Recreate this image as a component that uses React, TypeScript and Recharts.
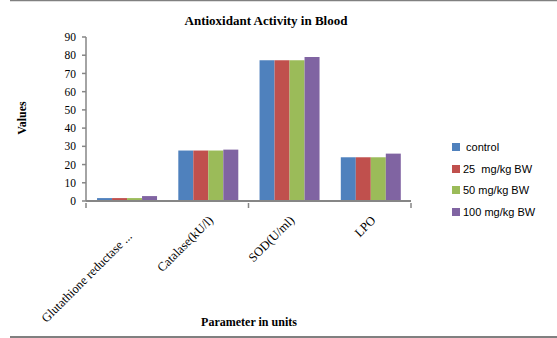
import React from 'react';
import { BarChart, Bar, XAxis, YAxis } from 'recharts';

const categories = ['Glutathione reductase ...', 'Catalase(kU/l)', 'SOD(U/ml)', 'LPO'];
const control = [1.6, 27.7, 77.3, 24];
const dose25 = [1.6, 27.7, 77.3, 24];
const dose50 = [1.6, 27.7, 77.3, 24];
const dose100 = [2.7, 28.2, 79, 26];
const seriesNames = ['control', '25  mg/kg BW', '50 mg/kg BW', '100 mg/kg BW'];
const seriesColors = ['#4F81BD', '#C0504D', '#9BBB59', '#8064A2'];
const yTicks = [0, 10, 20, 30, 40, 50, 60, 70, 80, 90];

const data = categories.map((c, i) => ({
  name: c,
  s0: control[i],
  s1: dose25[i],
  s2: dose50[i],
  s3: dose100[i],
}));

const AXIS = '#868686';
const SERIF = '"Liberation Serif", "Times New Roman", serif';
const SANS = '"Liberation Sans", Arial, sans-serif';

const XTick = (props: any) => {
  const { x, y, payload, index } = props;
  const half = payload && payload.offset ? payload.offset : 40.6;
  const n = categories.length;
  const lines: any[] = [];
  if (index % 2 === 0) lines.push(x - half);
  if (index === n - 1 && (index + 1) % 2 === 0) lines.push(x + half);
  const extra = index === 0 ? 16 : 0;
  const px = x + 6;
  const py = y + 12 + extra;
  return (
    <g>
      {lines.map((lx, k) => (
        <line key={k} x1={lx} x2={lx} y1={y - 6} y2={y - 1} stroke={AXIS} strokeWidth={1.5} />
      ))}
      <text
        x={px}
        y={py}
        transform={`rotate(-45, ${px}, ${py})`}
        textAnchor="end"
        fontFamily={SERIF}
        fontSize={12.5}
        fill="#000"
      >
        {payload.value}
      </text>
    </g>
  );
};

export default function App() {
  return (
    <div style={{ position: 'absolute', left: 0, top: 0, width: 557, height: 338, background: '#fff' }}>
      <BarChart
        width={557}
        height={338}
        data={data}
        margin={{ top: 37, right: 146, left: 0, bottom: 0 }}
        barCategoryGap="13.6%"
        barGap={0}
      >
        <YAxis
          width={86}
          domain={[0, 90]}
          ticks={yTicks}
          interval={0}
          tickSize={4}
          tickMargin={6}
          axisLine={{ stroke: AXIS, strokeWidth: 1.5 }}
          tickLine={{ stroke: AXIS, strokeWidth: 1.5 }}
          tick={{ fontFamily: SERIF, fontSize: 11.5, fill: '#000' }}
        />
        <XAxis
          dataKey="name"
          height={137}
          interval={0}
          tickLine={false}
          axisLine={{ stroke: AXIS, strokeWidth: 2 }}
          tick={<XTick />}
        />
        {seriesNames.map((nm, i) => (
          <Bar key={i} dataKey={`s${i}`} name={nm} fill={seriesColors[i]} isAnimationActive={false} />
        ))}
      </BarChart>
      <div
        style={{
          position: 'absolute',
          left: 452,
          top: 136,
          width: 105,
          fontFamily: SANS,
          fontSize: 11,
          color: '#000',
        }}
      >
        {seriesNames.map((nm, i) => (
          <div key={i} style={{ display: 'flex', alignItems: 'center', height: 21.7, whiteSpace: 'pre' }}>
            <span style={{ display: 'inline-block', width: 8, height: 8, background: seriesColors[i], marginRight: 3 }} />
            <span>{i === 0 ? ' ' + nm : nm}</span>
          </div>
        ))}
      </div>
      <svg width={557} height={338} style={{ position: 'absolute', left: 0, top: 0, pointerEvents: 'none' }}>
        <line x1={10} x2={557} y1={0.5} y2={0.5} stroke="#808080" strokeWidth={1.5} />
        <line x1={10} x2={557} y1={337} y2={337} stroke="#808080" strokeWidth={2} />
        <text x={266} y={25} textAnchor="middle" fontFamily={SERIF} fontWeight="bold" fontSize={13} fill="#000">
          Antioxidant Activity in Blood
        </text>
        <text
          x={26}
          y={118}
          transform="rotate(-90, 26, 118)"
          textAnchor="middle"
          fontFamily={SERIF}
          fontWeight="bold"
          fontSize={12}
          fill="#000"
        >
          Values
        </text>
        <text x={249} y={326} textAnchor="middle" fontFamily={SERIF} fontWeight="bold" fontSize={12} fill="#000">
          Parameter in units
        </text>
      </svg>
    </div>
  );
}
